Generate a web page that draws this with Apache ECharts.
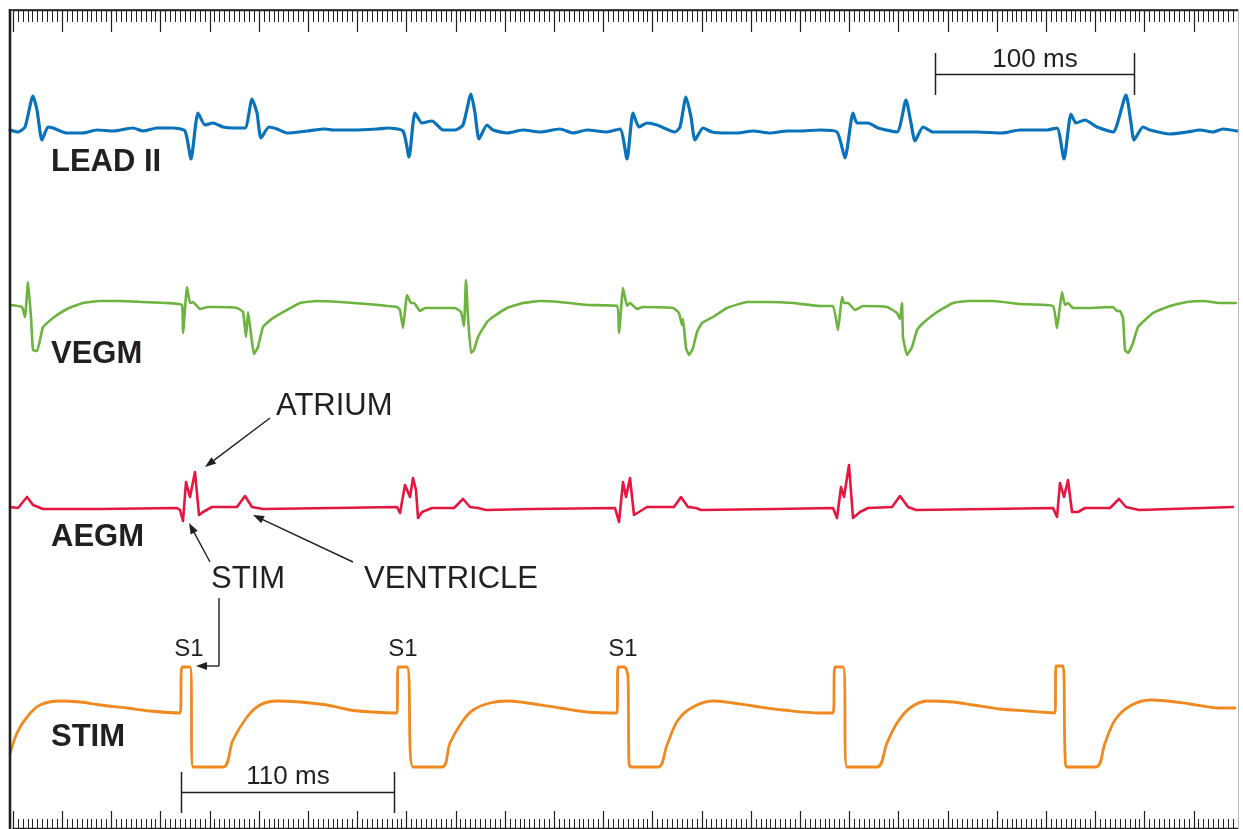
<!DOCTYPE html>
<html><head><meta charset="utf-8">
<script src="https://cdn.jsdelivr.net/npm/echarts@6/dist/echarts.min.js"></script>
<style>html,body{margin:0;padding:0;background:#fff}#c{width:1243px;height:829px}</style>
</head><body><div id="c"></div>
<script>
// ---- data (time in ms, amplitude in arbitrary units) ----
const traceNames = ['LEAD II', 'VEGM', 'AEGM', 'STIM'];

const leadIITime = [0,4,7.5,11.5,13.5,16,19,21.5,28.5,36.5,43.5,51.5,61.5,66.5,73.5,81.5,87.5,90.5,94,97.5,101.5,106.5,111.5,117.5,121,123.5,125.5,129.5,133.5,138.5,148.5,157.5,161.5,171.5,183.5,189,196.5,199.5,202.5,206,211,216.5,222.5,226.5,230.5,232.5,234.5,238.5,241.5,248.5,256.5,265,275,281.5,288.5,298.5,305,308.5,311.5,314.5,318.5,323.5,332.5,335,338,340.5,342.5,346.5,351,358.5,363.5,371.5,380,388.5,395,405,413.5,417.5,421.5,423.5,429,434,443.5,448,450.5,452.5,456.5,461.5,471.5,483.5,496,505,518.5,523.5,527,530.5,533,537.5,543.5,551.5,558,560.5,562,566.5,570,580,588.5,595,601.5,606.5,613.5];
const leadIIValue = [0,-0.2,0.3,3.4,2.0,-1.0,0.3,0.2,-0.3,-0.3,0,-0.1,0.2,-0.1,0.2,0.2,-0.1,-2.9,1.7,0.5,0.7,0.3,0.2,0.2,3.1,1.7,-0.8,0.3,0.1,-0.3,-0.1,0.1,0,0,0.1,0.2,-0.1,-2.7,1.7,0.7,0.9,0,0,0.5,3.6,1.7,-0.9,0.5,0,-0.3,0,-0.2,0.1,-0.3,0,-0.2,0.1,-2.9,1.7,0.3,0.7,0.5,-0.2,0.3,3.3,1.3,-1.0,0.2,-0.2,-0.3,-0.3,-0.1,-0.3,-0.1,-0.1,0,-0.2,-2.8,1.7,0.7,0.7,0.2,-0.2,3.0,0.7,-1.1,0.3,-0.2,-0.2,-0.2,-0.3,0,0,0.2,-2.9,1.6,0.7,1.0,0.3,-0.2,3.5,0.7,-1.0,0.3,0,-0.4,-0.2,0,-0.2,0.1,-0.1];

const vegmTime = [0,6,7.5,9,10.5,11.5,13.5,15,16.5,21.5,28.5,36.5,45,55,66.5,78.5,86,86.5,88.5,90,91.5,95,99,103.5,113.5,116.5,118,119,122,124,126.5,131.5,138.5,145,153.5,165,178.5,193.5,195,196.5,198.5,200.5,202,205,207.5,222.5,225.5,227,228,229,230.5,232,234,238.5,241.5,248.5,256.5,265,275,288.5,303.5,304.5,306.5,308.5,310,313.5,316.5,331.5,334.5,336,336.5,338,339.5,341.5,343.5,346,351.5,358.5,368.5,378.5,391.5,405,411.5,414,416,417,419,422.5,426.5,438.5,443.5,445,446,446.5,448.5,451,453.5,456,463.5,471.5,479,491.5,505,521.5,523.5,526,527.5,529,531.5,538.5,551.5,553.5,555,556.5,557.5,559,561.5,564,571.5,580,588.5,596.5,605,613];
const vegmValue = [0,-0.2,-1.2,2.3,-1.2,-4.5,-4.6,-3.5,-2.2,-1.3,-0.4,0.2,0.4,0.4,0.3,0.2,0,-2.8,1.8,0.2,0.3,-0.4,-0.2,-0.2,-0.3,-0.7,-3.2,-0.7,-4.9,-4.2,-2.2,-1.3,-0.5,0.2,0.4,0.3,0.1,-0.2,-0.5,-2.3,1.0,0.2,0.2,-0.6,-0.3,-0.3,-0.7,-2.1,2.5,-1.2,-4.8,-4.5,-3.2,-1.7,-1.2,-0.3,0.2,0.4,0.3,0,-0.1,-2.8,1.7,-0.1,0.2,-0.4,-0.2,-0.3,-0.8,-2.0,-1.4,-4.3,-5.0,-4.3,-2.7,-1.8,-1.2,-0.3,0.3,0.3,0.2,-0.1,-0.1,-2.5,0.8,0.2,0.2,-0.5,-0.1,-0.2,-0.8,-1.4,0.2,-3.2,-5.0,-4.2,-2.5,-1.9,-0.7,0.2,0.4,0.4,0.1,-0.1,-2.3,1.3,0,0.2,-0.3,-0.3,-0.2,-0.6,-0.6,-1.3,-4.5,-4.8,-3.8,-2.2,-0.8,-0.1,0.3,0.4,0.2,0.2];

const aegmTime = [0,4,8.5,11.5,16.5,45,83.5,85,86.5,88,90,92.5,94.5,96.5,101,113.5,117.5,121,126.5,161.5,193.5,195,197.5,200,201.5,203,204,206,211,222,226.5,230,234,238,262,302.5,304.5,306.5,308,310,312,314.5,318.5,332,335.5,339,343,345.5,383,411.5,413.5,415.5,417,419.5,421.5,425,429,441,445,449,453,490.5,521.5,523.5,525,527,529,531,534,537.5,550,554.5,558,564.5,611.5];
const aegmValue = [0.1,0,1.1,0.3,-0.1,-0.1,0,-0.2,-1.3,2.6,1.1,3.6,-0.7,-0.4,0.1,0.1,1.2,0.1,-0.1,0,0.1,-0.5,2.3,1.1,3.0,1.8,-1.0,-0.4,0,0,0.9,0.1,0,-0.2,-0.1,0,-1.4,2.6,1.1,3.0,-0.7,-0.4,0.1,0.1,1.1,0.1,0,-0.2,-0.1,0,-1.0,2.1,1.1,4.3,-1.0,-0.4,0,0.1,1.2,0.1,-0.2,-0.1,0,-0.9,2.5,1.1,2.8,-0.4,-0.4,0,0,0.9,0.1,-0.2,0.1];

const stimTime = [0,3.5,8.5,15,25,35,45,58.5,70,85,86,90,91.5,106.5,111.5,118.5,125,133.5,145,158.5,170,181.5,193.5,194,198.5,201.5,216,220,226,231.5,240,248.5,258.5,275,288.5,303.5,304,307,309,309.5,310.5,324,328.5,334,341.5,351.5,361.5,371.5,386.5,405,411.5,412.5,416.5,418.5,433.5,438.5,443.5,450,458.5,471.5,481.5,495,508.5,522.5,523,526.5,527.5,528.5,543,547.5,552.5,560,570,578.5,590,605,612.5];
const stimValue = [-4.1,-2.0,-0.4,0.8,1.2,1.1,0.8,0.5,0.2,0,4.6,4.6,-5.4,-5.4,-2.7,-0.4,0.8,1.2,1.1,0.8,0.3,0.1,0,4.6,4.6,-5.4,-5.4,-3.0,-0.9,0.3,1.0,1.2,1.0,0.5,0.1,0,4.6,4.6,3.6,-5.0,-5.4,-5.4,-3.2,-0.7,0.6,1.2,1.0,0.7,0.3,0,0,4.6,4.6,-5.4,-5.4,-3.0,-1.0,0.5,1.2,1.1,0.8,0.4,0.2,0,4.7,4.7,-4.0,-5.4,-5.4,-3.0,-0.7,0.7,1.3,1.2,0.9,0.5,0.5];

const s1LabelTimes = [89.5, 196.5, 306.5];
const scaleBars = [
  { label: '100 ms', from: 462.5, to: 562 },
  { label: '110 ms', from: 85.5, to: 192 }
];
const rulerMajorStep = 25;
const rulerMinorSplit = 10;
const annotationLabels = ['ATRIUM', 'STIM', 'VENTRICLE'];

// ---- chart ----
const INK = '#231f20';
const colors = ['#0a72ba', '#6cb33f', '#e5173f', '#f0891f'];
const widths = [3.2, 2.6, 2.6, 2.8];
const smooths = [0.2, 0.12, 0, 0.35];
const zip = (a, b) => a.map((t, i) => [t, b[i]]);
const traceData = [zip(leadIITime, leadIIValue), zip(vegmTime, vegmValue), zip(aegmTime, aegmValue), zip(stimTime, stimValue)];

const gridDefs = [
  { top: 80, height: 100, r: 5 },
  { top: 255, height: 100, r: 5 },
  { top: 458, height: 100, r: 5 },
  { top: 643, height: 140, r: 7 }
];

const grid = gridDefs.map(g => ({ left: 10, right: 5, top: g.top, height: g.height }));
grid.push({ left: 13, right: -12.5, top: 10, bottom: 1 });

const xAxis = gridDefs.map((g, i) => ({ type: 'value', gridIndex: i, min: 0, max: 614, show: false }));
const yAxis = gridDefs.map((g, i) => ({ type: 'value', gridIndex: i, min: -g.r, max: g.r, show: false }));
const rulerAxis = (pos, major, minor) => ({
  type: 'value', gridIndex: 4, position: pos, min: 0, max: 625, interval: rulerMajorStep,
  axisLine: { show: true, onZero: false, lineStyle: { color: INK, width: 1.3 } },
  axisTick: { show: true, inside: true, length: major, lineStyle: { color: INK, width: 1.2 } },
  minorTick: { show: true, splitNumber: rulerMinorSplit, length: minor, lineStyle: { color: INK, width: 1 } },
  axisLabel: { show: false }, splitLine: { show: false }
});
xAxis.push(rulerAxis('top', 22, 12));
xAxis.push(rulerAxis('bottom', 17, 9));
yAxis.push({ type: 'value', gridIndex: 4, min: 0, max: 1, show: false });

const series = traceData.map((d, i) => ({
  type: 'line', name: traceNames[i], xAxisIndex: i, yAxisIndex: i, data: d,
  showSymbol: false, symbol: 'none', smooth: smooths[i], clip: false,
  lineStyle: { color: colors[i], width: widths[i], join: 'round', cap: 'round' },
  animation: false
}));

const chart = echarts.init(document.getElementById('c'), null, { renderer: 'canvas' });
chart.setOption({ animation: false, backgroundColor: '#fff', grid, xAxis, yAxis, series });

const txt = (text, x, y, font, align) => ({
  type: 'text', z: 100,
  style: { text, x, y, font, fill: INK, align: align || 'left', verticalAlign: 'middle', textAlign: align || 'left', textVerticalAlign: 'middle' }
});
const seg = (x1, y1, x2, y2, w) => ({ type: 'line', z: 100, shape: { x1, y1, x2, y2 }, style: { stroke: INK, lineWidth: w || 1.4 } });
const head = (x1, y1, x2, y2) => {
  const a = Math.atan2(y2 - y1, x2 - x1), L = 11, W = 4;
  const bx = x2 - L * Math.cos(a), by = y2 - L * Math.sin(a);
  const nx = -Math.sin(a) * W, ny = Math.cos(a) * W;
  return { type: 'polygon', z: 100, shape: { points: [[x2, y2], [bx + nx, by + ny], [bx - nx, by - ny]] }, style: { fill: INK } };
};
const arrow = (x1, y1, x2, y2) => {
  const a = Math.atan2(y2 - y1, x2 - x1);
  return [seg(x1, y1, x2 - 9 * Math.cos(a), y2 - 9 * Math.sin(a)), head(x1, y1, x2, y2)];
};

const px = (t, idx) => chart.convertToPixel({ xAxisIndex: idx }, t);
const g = [];
// frame
g.push({ type: 'line', z: 90, shape: { x1: 10, y1: 9, x2: 10, y2: 829 }, style: { stroke: INK, lineWidth: 2.6 } });
g.push({ type: 'line', z: 90, shape: { x1: 9, y1: 10, x2: 1238, y2: 10 }, style: { stroke: INK, lineWidth: 1.5 } });
g.push({ type: 'rect', z: 95, shape: { x: 1239, y: 0, width: 10, height: 829 }, style: { fill: '#fff' } });
g.push({ type: 'line', z: 96, shape: { x1: 1238.5, y1: 10, x2: 1238.5, y2: 829 }, style: { stroke: '#b9b9b9', lineWidth: 1 } });
// trace names
const nameY = [162, 354, 537, 737];
traceNames.forEach((n, i) => g.push(txt(n, 51, nameY[i], 'bold 31px "Liberation Sans", Arial, sans-serif')));
// annotations
const F = '31px "Liberation Sans", Arial, sans-serif';
g.push(txt(annotationLabels[0], 276, 406, F));
g.push(txt(annotationLabels[1], 211, 579, F));
g.push(txt(annotationLabels[2], 364, 579, F));
g.push(...arrow(270, 418, 205, 467));
g.push(...arrow(210, 562, 189, 523));
g.push(...arrow(353, 562, 253, 515));
g.push(seg(219, 598, 219, 666));
g.push(...arrow(219, 666, 196, 666));
// S1 labels
s1LabelTimes.forEach(t => g.push(txt('S1', px(t, 3), 649, '24px "Liberation Sans", Arial, sans-serif', 'center')));
// scale bars
const barY = [{ y: 74, t0: 53, t1: 95, ty: 60 }, { y: 792, t0: 772, t1: 813, ty: 777 }];
scaleBars.forEach((b, i) => {
  const x0 = Math.round(px(b.from, 0)) + 0.5, x1 = Math.round(px(b.to, 0)) + 0.5, yb = barY[i];
  g.push(seg(x0, yb.y + 0.5, x1, yb.y + 0.5, 1.5));
  g.push(seg(x0, yb.t0, x0, yb.t1, 1.5));
  g.push(seg(x1, yb.t0, x1, yb.t1, 1.5));
  g.push(txt(b.label, (x0 + x1) / 2, yb.ty, '26px "Liberation Sans", Arial, sans-serif', 'center'));
});
chart.setOption({ graphic: { elements: g } });
</script></body></html>
